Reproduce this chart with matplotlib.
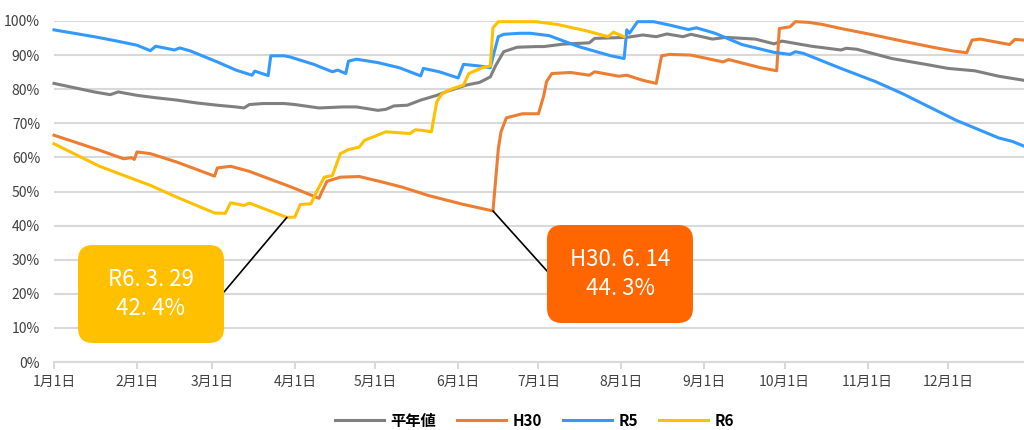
import matplotlib.pyplot as plt
from matplotlib.patches import FancyBboxPatch
from matplotlib.transforms import IdentityTransform

plt.rcParams['font.family'] = ['Noto Sans CJK JP', 'DejaVu Sans']

# day of year (1月1日 = 0) and storage rate in %
avg_days = [0, 6, 15, 21, 24, 31, 38, 46, 53, 61, 68, 71, 73, 78, 86, 90, 99, 108, 113, 121,
            124, 127, 132, 137, 143, 147, 154, 159, 163, 165, 168, 173, 180, 183, 190, 200,
            202, 214, 220, 225, 229, 235, 238, 246, 251, 262, 269, 272, 283, 294, 296, 300,
            313, 327, 334, 344, 353, 364]
avg_vals = [81.7, 80.7, 79.2, 78.4, 79.2, 78.2, 77.5, 76.8, 76.0, 75.3, 74.8, 74.5, 75.5, 75.8,
            75.8, 75.5, 74.5, 74.8, 74.8, 73.8, 74.1, 75.1, 75.3, 76.8, 78.2, 79.4, 81.2, 82.0,
            83.6, 86.9, 91.0, 92.3, 92.5, 92.5, 93.2, 93.6, 94.9, 95.2, 95.9, 95.4, 96.2, 95.4,
            96.1, 94.7, 95.2, 94.7, 93.3, 94.1, 92.6, 91.5, 92.0, 91.7, 89.0, 87.1, 86.1, 85.4,
            83.8, 82.4]

h30_days = [0, 7, 17, 26, 29, 30, 31, 36, 46, 60, 61, 66, 73, 89, 99, 100, 102, 107, 114, 122,
            130, 140, 153, 164, 166, 167, 169, 175, 181, 183, 184, 186, 193, 200, 202, 211, 214,
            220, 225, 227, 230, 238, 250, 252, 264, 270, 271, 275, 277, 282, 287, 294, 305, 317,
            329, 336, 341, 343, 346, 357, 359, 364]
h30_vals = [66.5, 64.7, 62.1, 59.6, 59.9, 59.4, 61.6, 61.1, 58.6, 54.5, 56.9, 57.4, 55.9, 51.2,
            48.0, 49.8, 53.0, 54.2, 54.4, 52.9, 51.3, 48.8, 46.2, 44.3, 62.5, 67.5, 71.6, 72.8,
            72.8, 78.2, 82.2, 84.6, 84.9, 84.1, 85.1, 83.8, 84.1, 82.6, 81.7, 89.8, 90.2, 90.0,
            88.0, 88.7, 86.3, 85.4, 97.8, 98.3, 99.8, 99.6, 99.0, 97.8, 96.1, 94.1, 92.2, 91.2,
            90.7, 94.4, 94.7, 93.1, 94.6, 94.3]

r5_days = [0, 15, 23, 31, 36, 38, 45, 47, 51, 61, 68, 74, 75, 80, 81, 86, 88, 97, 104, 106, 109,
           110, 113, 121, 129, 137, 138, 144, 151, 153, 159, 163, 164, 166, 168, 174, 178, 185,
           196, 208, 213, 214, 215, 218, 224, 230, 237, 240, 247, 257, 269, 275, 277, 280, 294,
           307, 317, 327, 337, 353, 358, 364]
r5_vals = [97.4, 95.4, 94.2, 92.9, 91.3, 92.6, 91.5, 92.1, 91.2, 88.0, 85.6, 84.1, 85.3, 84.0,
           89.8, 89.8, 89.5, 87.3, 85.1, 85.6, 84.6, 88.2, 88.8, 87.8, 86.3, 83.9, 86.1, 85.1,
           83.3, 87.3, 86.8, 86.3, 89.5, 95.4, 96.1, 96.4, 96.4, 95.7, 92.5, 89.8, 89.0, 97.4,
           96.4, 99.8, 99.8, 98.8, 97.5, 98.0, 96.4, 93.1, 90.8, 90.2, 91.0, 90.5, 86.1, 82.2,
           78.7, 74.8, 70.9, 65.7, 64.7, 62.8]

r6_days = [0, 17, 36, 46, 60, 64, 66, 71, 73, 87, 90, 92, 96, 98, 101, 104, 107, 110, 114, 116,
           124, 133, 135, 138, 141, 143, 145, 149, 153, 155, 160, 163, 164, 166, 180, 188, 199,
           207, 209, 213]
r6_vals = [64.0, 57.4, 51.8, 48.3, 43.7, 43.6, 46.7, 45.9, 46.6, 42.4, 42.5, 46.2, 46.4, 49.8,
           54.2, 54.7, 61.1, 62.3, 63.0, 65.0, 67.5, 67.0, 68.1, 67.9, 67.5, 76.3, 78.7, 80.2,
           81.2, 84.6, 86.3, 86.8, 98.0, 99.8, 99.8, 99.0, 97.1, 95.4, 96.7, 95.4]

month_days = [0, 31, 59, 90, 120, 151, 181, 212, 243, 273, 304, 334]
month_labels = ['1月1日', '2月1日', '3月1日', '4月1日', '5月1日', '6月1日',
                '7月1日', '8月1日', '9月1日', '10月1日', '11月1日', '12月1日']
y_ticks = list(range(0, 101, 10))

fig = plt.figure(figsize=(10.24, 4.3), dpi=100)
ax = fig.add_axes([54 / 1024, 68 / 430, 970 / 1024, 341 / 430])

l1, = ax.plot(avg_days, avg_vals, color='#808080', lw=2.2, clip_on=False)
l2, = ax.plot(h30_days, h30_vals, color='#ED7D31', lw=2.2, clip_on=False)
l3, = ax.plot(r5_days, r5_vals, color='#3399FF', lw=2.2, clip_on=False)
l4, = ax.plot(r6_days, r6_vals, color='#FFC000', lw=2.2, clip_on=False)

ax.set_xlim(0, 362.4)
ax.set_ylim(0, 100)
ax.set_xticks(month_days)
ax.set_xticklabels(month_labels)
ax.set_yticks(y_ticks)
ax.set_yticklabels([f'{v}%' for v in y_ticks])
ax.yaxis.grid(True, color='#D9D9D9', lw=1.5)
ax.set_axisbelow(True)
for s in ['top', 'right', 'left']:
    ax.spines[s].set_visible(False)
ax.spines['bottom'].set_color('#D9D9D9')
ax.spines['bottom'].set_linewidth(1.5)
ax.tick_params(axis='y', length=0, pad=10, labelsize=10, labelcolor='#404040')
ax.tick_params(axis='x', length=5, width=1.5, color='#D9D9D9', pad=4,
               labelsize=10, labelcolor='#404040')

# callout boxes (figure pixels)
px = IdentityTransform()
boxes = [
    ((78, 87), '#FFC000', 'R6. 3. 29\n42. 4%', (224, 138), r6_days.index(87), r6_days, r6_vals),
    ((547, 107), '#FF6600', 'H30. 6. 14\n44. 3%', (547, 159), h30_days.index(164), h30_days, h30_vals),
]
for (bx, by), col, txt, start, i, dd, vv in boxes:
    fig.add_artist(FancyBboxPatch((bx, by), 146, 98, boxstyle='round,pad=0,rounding_size=15',
                                  fc=col, ec='none', transform=px))
    fig.text(bx + 73, by + 49, txt, transform=px, ha='center', va='center',
             color='white', fontsize=16, linespacing=1.3)
    ax.annotate('', xy=(dd[i], vv[i]), xytext=start, textcoords='figure pixels',
                arrowprops=dict(arrowstyle='-', color='black', lw=1.2, shrinkA=0, shrinkB=0))

fig.legend([l1, l2, l3, l4], ['平年値', 'H30', 'R5', 'R6'], loc='center',
           bbox_to_anchor=(0.522, 0.022), ncol=4, frameon=False,
           prop={'size': 11, 'weight': 'bold'}, handlelength=3.2,
           columnspacing=1.4, handletextpad=0.4)

fig.savefig('out.png', dpi=100)
